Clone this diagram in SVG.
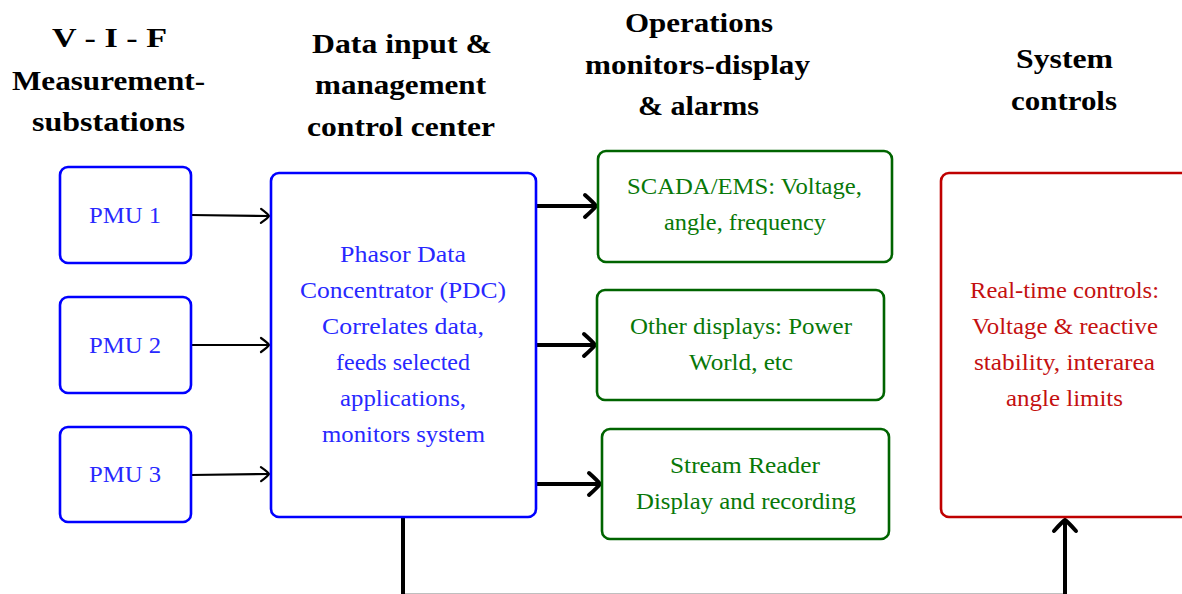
<svg xmlns="http://www.w3.org/2000/svg" width="1182" height="594" viewBox="0 0 1182 594">
<style>
.hd{font-family:'Liberation Serif','DejaVu Serif','Times New Roman',serif;font-weight:bold;font-size:28px;fill:#000;text-anchor:middle}
.tx{font-family:'Liberation Serif','DejaVu Serif','Times New Roman',serif;font-size:23.5px;text-anchor:middle}
.b rect{fill:#fff;stroke:#0000ff;stroke-width:2.6}
.b text{fill:#2828ff}
.g rect{fill:#fff;stroke:#006400;stroke-width:2.6}
.g text{fill:#087808}
.r rect{fill:#fff;stroke:#bf0000;stroke-width:2.6}
.r text{fill:#c41010}
.thin{fill:none;stroke:#000;stroke-width:2.2}
.thick{fill:none;stroke:#000;stroke-width:4}
</style>
<defs>
<marker id="ah" markerUnits="userSpaceOnUse" markerWidth="20" markerHeight="20" viewBox="-10 -10 20 20" refX="0" refY="0" orient="auto">
<path d="M-8,-7 Q-1,-2 0,0 Q-1,2 -8,7" fill="none" stroke="#000" stroke-width="2.2" stroke-linecap="round"/>
</marker>
<marker id="ahb" markerUnits="userSpaceOnUse" markerWidth="30" markerHeight="30" viewBox="-15 -15 30 30" refX="0" refY="0" orient="auto">
<path d="M-11,-11 Q-2,-3 0,0 Q-2,3 -11,11" fill="none" stroke="#000" stroke-width="4" stroke-linecap="round"/>
</marker>
</defs>

<g id="headers">
<text class="hd" x="109.5" y="47" textLength="115" lengthAdjust="spacingAndGlyphs">V - I - F</text>
<text class="hd" x="108.5" y="90" textLength="193" lengthAdjust="spacingAndGlyphs">Measurement-</text>
<text class="hd" x="108.5" y="130.5" textLength="153" lengthAdjust="spacingAndGlyphs">substations</text>
<text class="hd" x="402" y="53" textLength="180" lengthAdjust="spacingAndGlyphs">Data input &amp;</text>
<text class="hd" x="400.5" y="94.3" textLength="171" lengthAdjust="spacingAndGlyphs">management</text>
<text class="hd" x="401" y="136" textLength="188" lengthAdjust="spacingAndGlyphs">control center</text>
<text class="hd" x="699" y="32.3" textLength="148" lengthAdjust="spacingAndGlyphs">Operations</text>
<text class="hd" x="697.5" y="73.5" textLength="225" lengthAdjust="spacingAndGlyphs">monitors-display</text>
<text class="hd" x="698.5" y="115" textLength="121" lengthAdjust="spacingAndGlyphs">&amp; alarms</text>
<text class="hd" x="1064.5" y="68" textLength="97" lengthAdjust="spacingAndGlyphs">System</text>
<text class="hd" x="1064" y="110" textLength="106" lengthAdjust="spacingAndGlyphs">controls</text>
</g>

<g id="connectors">
<path class="thin" d="M191,215 L269,216" marker-end="url(#ah)"/>
<path class="thin" d="M191,345 L269,345" marker-end="url(#ah)"/>
<path class="thin" d="M191,475 L269,474" marker-end="url(#ah)"/>
<path class="thick" d="M536,206 L596,206" marker-end="url(#ahb)"/>
<path class="thick" d="M536,345 L595,345" marker-end="url(#ahb)"/>
<path class="thick" d="M536,484 L600,484" marker-end="url(#ahb)"/>
<path class="thick" d="M403,517 L403,595.85 L1065,595.85 L1065,520" marker-end="url(#ahb)"/>
</g>

<g id="pmu1" class="b">
<rect x="60" y="167" width="131" height="96" rx="8"/>
<text class="tx" x="125" y="222.5" textLength="72" lengthAdjust="spacingAndGlyphs">PMU 1</text>
</g>
<g id="pmu2" class="b">
<rect x="60" y="297" width="131" height="96" rx="8"/>
<text class="tx" x="125" y="352.5" textLength="72" lengthAdjust="spacingAndGlyphs">PMU 2</text>
</g>
<g id="pmu3" class="b">
<rect x="60" y="427" width="131" height="95" rx="8"/>
<text class="tx" x="125" y="482" textLength="72" lengthAdjust="spacingAndGlyphs">PMU 3</text>
</g>
<g id="pdc" class="b">
<rect x="271" y="173" width="265" height="344" rx="8"/>
<text class="tx" x="403" y="262" textLength="126" lengthAdjust="spacingAndGlyphs">Phasor Data</text>
<text class="tx" x="403" y="298" textLength="206" lengthAdjust="spacingAndGlyphs">Concentrator (PDC)</text>
<text class="tx" x="403" y="334" textLength="162" lengthAdjust="spacingAndGlyphs">Correlates data,</text>
<text class="tx" x="403" y="370" textLength="134" lengthAdjust="spacingAndGlyphs">feeds selected</text>
<text class="tx" x="403" y="406" textLength="126" lengthAdjust="spacingAndGlyphs">applications,</text>
<text class="tx" x="403.5" y="442" textLength="163" lengthAdjust="spacingAndGlyphs">monitors system</text>
</g>
<g id="scada" class="g">
<rect x="598" y="151" width="294" height="111" rx="8"/>
<text class="tx" x="744.5" y="194" textLength="235" lengthAdjust="spacingAndGlyphs">SCADA/EMS: Voltage,</text>
<text class="tx" x="745" y="230" textLength="162" lengthAdjust="spacingAndGlyphs">angle, frequency</text>
</g>
<g id="other" class="g">
<rect x="597" y="290" width="287" height="110" rx="8"/>
<text class="tx" x="741" y="334" textLength="222" lengthAdjust="spacingAndGlyphs">Other displays: Power</text>
<text class="tx" x="741" y="370" textLength="104" lengthAdjust="spacingAndGlyphs">World, etc</text>
</g>
<g id="stream" class="g">
<rect x="602" y="429" width="287" height="110" rx="8"/>
<text class="tx" x="745" y="473" textLength="150" lengthAdjust="spacingAndGlyphs">Stream Reader</text>
<text class="tx" x="746" y="509" textLength="220" lengthAdjust="spacingAndGlyphs">Display and recording</text>
</g>
<g id="controls" class="r">
<rect x="941" y="173" width="270" height="344" rx="8"/>
<text class="tx" x="1064.5" y="298" textLength="189" lengthAdjust="spacingAndGlyphs">Real-time controls:</text>
<text class="tx" x="1065" y="334" textLength="186" lengthAdjust="spacingAndGlyphs">Voltage &amp; reactive</text>
<text class="tx" x="1064.5" y="370" textLength="181" lengthAdjust="spacingAndGlyphs">stability, interarea</text>
<text class="tx" x="1064.5" y="406" textLength="117" lengthAdjust="spacingAndGlyphs">angle limits</text>
</g>
</svg>
